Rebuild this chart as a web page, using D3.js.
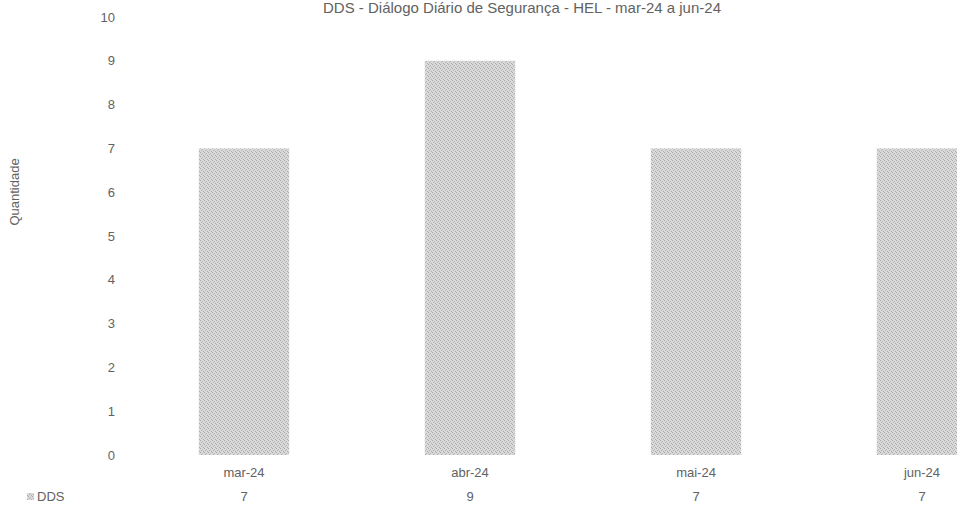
<!DOCTYPE html>
<html>
<head>
<meta charset="utf-8">
<script src="https://cdn.jsdelivr.net/npm/d3@7"></script>
<style>
  body { margin: 0; background: #fff; }
  text { font-family: "Liberation Sans", Arial, sans-serif; fill: #626262; }
</style>
</head>
<body>
<script>
// data
var months = ['mar-24', 'abr-24', 'mai-24', 'jun-24'];
var ddsValues = [7, 9, 7, 7];
var yTicks = [0, 1, 2, 3, 4, 5, 6, 7, 8, 9, 10];
var seriesName = 'DDS';
var chartTitle = 'DDS - Diálogo Diário de Segurança - HEL - mar-24 a jun-24';

var width = 957, height = 511;

var svg = d3.select("body").append("svg")
        .attr("width", width)
        .attr("height", height);

// speckled grey tile, close to the scanned look of the bars
var defs = svg.append("defs");
var pat = defs.append("pattern").attr("id", "speckle")
        .attr("patternUnits", "userSpaceOnUse")
        .attr("width", 4).attr("height", 4);
pat.append("rect").attr("width", 4).attr("height", 4).attr("fill", "#dadada");
pat.append("rect").attr("x", 0).attr("y", 0).attr("width", 1).attr("height", 1).attr("fill", "#a9a9a9");
pat.append("rect").attr("x", 2).attr("y", 1).attr("width", 1).attr("height", 1).attr("fill", "#b5b5b5");
pat.append("rect").attr("x", 1).attr("y", 2).attr("width", 1).attr("height", 1).attr("fill", "#b0b0b0");
pat.append("rect").attr("x", 3).attr("y", 3).attr("width", 1).attr("height", 1).attr("fill", "#ababab");

// x scale: the chart runs past the right edge of the picture
var x = d3.scaleBand()
        .domain(months)
        .range([131, 1035])
        .paddingInner(0.6)
        .paddingOuter(0.3);

var y = d3.scaleLinear()
        .domain([0, 10])
        .range([455, 17]);

// title
svg.append("text")
        .attr("x", 522)
        .attr("y", 13)
        .attr("text-anchor", "middle")
        .style("font-size", "15px")
        .text(chartTitle);

// y axis labels, no line
var yAxis = d3.axisLeft(y).tickValues(yTicks).tickSize(0).tickPadding(0);
var gy = svg.append("g").attr("transform", "translate(115,0)").call(yAxis);
gy.select(".domain").remove();
gy.selectAll("text").style("font-size", "13px").style("font-family", "Liberation Sans, Arial, sans-serif").attr("fill", "#626262");

// y axis title
svg.append("text")
        .attr("transform", "translate(19,192) rotate(-90)")
        .attr("text-anchor", "middle")
        .style("font-size", "13px")
        .text("Quantidade");

// bars
svg.append("g").selectAll("rect").data(ddsValues).enter().append("rect")
        .attr("x", function(d, i){ return x(months[i]); })
        .attr("y", function(d){ return y(d); })
        .attr("width", x.bandwidth())
        .attr("height", function(d){ return y(0) - y(d); })
        .attr("fill", "url(#speckle)");

// category labels
var xAxis = d3.axisBottom(x).tickSize(0).tickPadding(0);
var gx = svg.append("g").attr("transform", "translate(0,468)").call(xAxis);
gx.select(".domain").remove();
gx.selectAll("text").style("font-size", "13px").style("font-family", "Liberation Sans, Arial, sans-serif").attr("fill", "#626262");

// data table row
svg.append("rect")
        .attr("x", 27).attr("y", 493)
        .attr("width", 7).attr("height", 7)
        .attr("fill", "url(#speckle)");
svg.append("text")
        .attr("x", 37).attr("y", 501)
        .style("font-size", "13px")
        .text(seriesName);
svg.selectAll("text.val").data(ddsValues).enter().append("text")
        .attr("class", "val")
        .attr("x", function(d, i){ return x(months[i]) + x.bandwidth() / 2; })
        .attr("y", 501)
        .attr("text-anchor", "middle")
        .style("font-size", "13px")
        .text(function(d){ return d; });
</script>
</body>
</html>
